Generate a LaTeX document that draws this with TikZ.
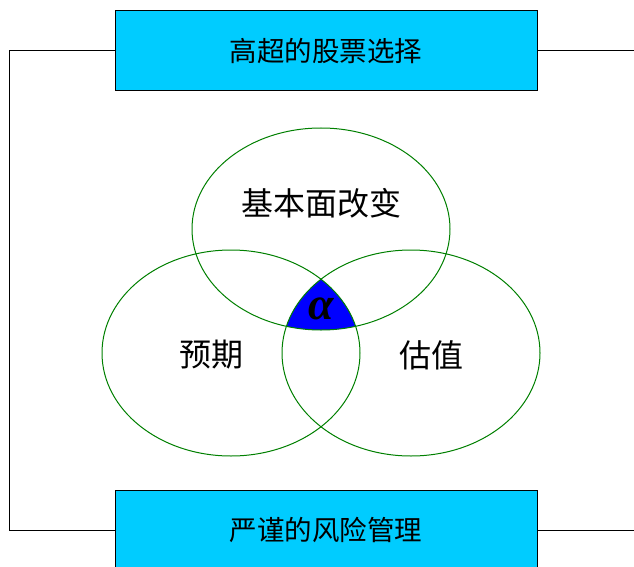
\documentclass[tikz,border=0pt]{standalone}
\usepackage{fontspec}
\newfontfamily\cjk{Noto Sans CJK SC}
\newfontfamily\grk{Liberation Serif}
\definecolor{boxblue}{HTML}{00CCFF}
\definecolor{vgreen}{HTML}{008000}
\definecolor{alphablue}{HTML}{0000FF}
\begin{document}
\begin{tikzpicture}[x=1pt,y=-1pt,
  topbox/.style={draw=black,line width=1pt,fill=boxblue,minimum width=422pt,minimum height=80pt,inner sep=0pt,font=\cjk\fontsize{27.5}{32}\selectfont},
  lbl/.style={font=\cjk\fontsize{32}{36}\selectfont,inner sep=0pt},
  vline/.style={draw=vgreen,line width=1pt},
  conn/.style={draw=black,line width=1pt}]
\useasboundingbox (0,0) rectangle (634,567);
\fill[white] (0,0) rectangle (634,567);
% alpha region
\begin{scope}
  \clip (321,229) ellipse [x radius=129pt, y radius=101pt];
  \clip (231,353) ellipse [x radius=129pt, y radius=103pt];
  \fill[alphablue] (411,353) ellipse [x radius=129pt, y radius=103pt];
\end{scope}
\draw[vline] (321,229) ellipse [x radius=129pt, y radius=101pt];
\draw[vline] (231,353) ellipse [x radius=129pt, y radius=103pt];
\draw[vline] (411,353) ellipse [x radius=129pt, y radius=103pt];
\node[lbl] (fund) at (321,203) {基本面改变};
\node[lbl] (exp) at (211,355) {预期};
\node[lbl] (val) at (431,355) {估值};
\node[inner sep=0pt,font=\grk\bfseries\itshape\fontsize{46}{46}\selectfont] (alpha) at (321,309) {α};
% boxes
\node[topbox] (sel) at (326,51) {高超的股票选择};
\node[topbox] (risk) at (326,530) {严谨的风险管理};
\coordinate (lt) at (9,51);
\coordinate (lb) at (9,530);
\coordinate (rt) at (634,51);
\coordinate (rb) at (634,530);
\draw[conn] (sel.west) -- (lt) -- (lb) -- (risk.west);
\draw[conn] (sel.east) -- (rt);
\draw[conn] (risk.east) -- (rb);
\end{tikzpicture}
\end{document}
